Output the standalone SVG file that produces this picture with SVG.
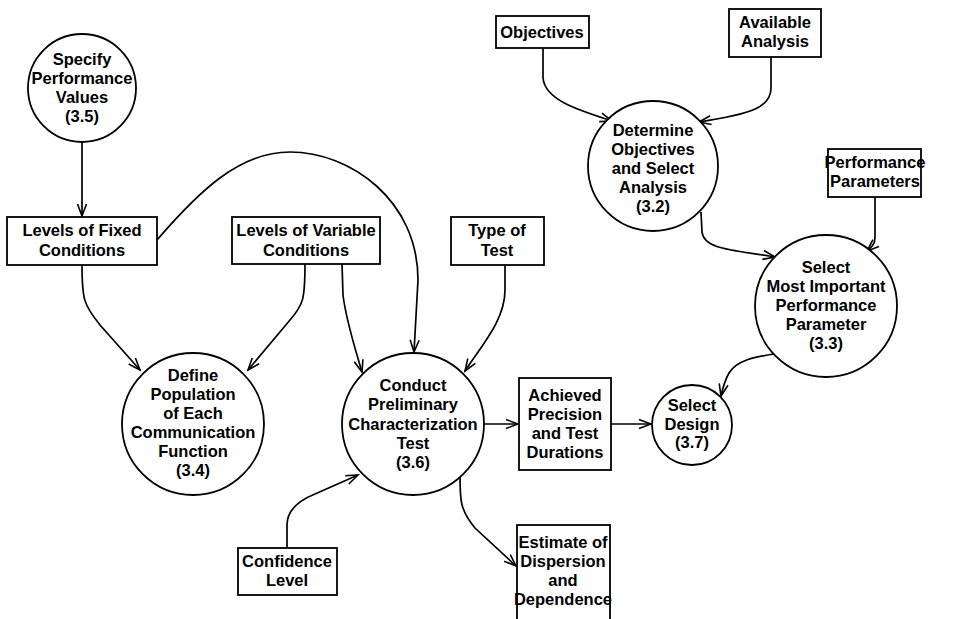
<svg xmlns="http://www.w3.org/2000/svg" width="966" height="619" viewBox="0 0 966 619">
  <style>
    .shape { fill: #fff; stroke: #000; stroke-width: 1.8; }
    .lbl { font-family: "Liberation Sans", Arial, sans-serif; font-weight: bold; font-size: 16.5px; fill: #000; text-anchor: middle; }
    .wire { fill: none; stroke: #000; stroke-width: 1.7; marker-end: url(#vee); }
  </style>
  <defs>
    <marker id="vee" viewBox="-13 -6 15 12" refX="0" refY="0" markerWidth="15" markerHeight="12" markerUnits="userSpaceOnUse" orient="auto">
      <path d="M-12,-4.5 L0,0 L-12,4.5" fill="none" stroke="#000" stroke-width="1.6"/>
    </marker>
  </defs>
  <rect width="966" height="619" fill="#fff"/>

  <g id="connectors">
    <path class="wire" d="M82,142 L82,216"/>
    <path class="wire" d="M82,265 C82,300 84,305 100,325 L140,370"/>
    <path class="wire" d="M305,264 C305,300 303,305 290,320 L248,370"/>
    <path class="wire" d="M342,264 L343,295 C346,320 354,345 362,372"/>
    <path class="wire" d="M157,240 C200,190 240,152 290,152 C350,152 418,200 418,280 L414,352"/>
    <path class="wire" d="M505,265 L505,290 C505,320 482,345 465,371"/>
    <path class="wire" d="M484,424 L518,424"/>
    <path class="wire" d="M611,424 L651,424"/>
    <path class="wire" d="M460,476 C460,500 460,510 475,528 L516,566"/>
    <path class="wire" d="M287,548 L287,525 C287,510 300,500 315,494 L358,475"/>
    <path class="wire" d="M543,48 L543,78 C545,100 578,110 612,121"/>
    <path class="wire" d="M771,57 L771,88 C771,108 750,114 699,122"/>
    <path class="wire" d="M701,212 L702,232 C704,250 735,250 775,257"/>
    <path class="wire" d="M875,197 L875,230 C875,242 876,243 867,251"/>
    <path class="wire" d="M774,354 C755,357 737,360 729,373 C725,380 723,387 721,396"/>
  </g>

  <g id="specify-performance-values">
    <circle class="shape" cx="82" cy="88" r="54"/>
    <text class="lbl"><tspan x="82" y="65">Specify</tspan><tspan x="82" y="84">Performance</tspan><tspan x="82" y="103">Values</tspan><tspan x="82" y="122">(3.5)</tspan></text>
  </g>

  <g id="levels-fixed">
    <rect class="shape" x="7" y="217" width="150" height="48"/>
    <text class="lbl"><tspan x="82" y="236">Levels of Fixed</tspan><tspan x="82" y="256">Conditions</tspan></text>
  </g>

  <g id="levels-variable">
    <rect class="shape" x="232" y="217" width="148" height="47"/>
    <text class="lbl"><tspan x="306" y="236">Levels of Variable</tspan><tspan x="306" y="256">Conditions</tspan></text>
  </g>

  <g id="type-of-test">
    <rect class="shape" x="451" y="217" width="93" height="48"/>
    <text class="lbl"><tspan x="497" y="236">Type of</tspan><tspan x="497" y="256">Test</tspan></text>
  </g>

  <g id="define-population">
    <circle class="shape" cx="193" cy="424" r="71"/>
    <text class="lbl"><tspan x="193" y="381">Define</tspan><tspan x="193" y="400">Population</tspan><tspan x="193" y="419">of Each</tspan><tspan x="193" y="438">Communication</tspan><tspan x="193" y="457">Function</tspan><tspan x="193" y="476">(3.4)</tspan></text>
  </g>

  <g id="conduct-test">
    <circle class="shape" cx="413" cy="424" r="71"/>
    <text class="lbl"><tspan x="413" y="391">Conduct</tspan><tspan x="413" y="410">Preliminary</tspan><tspan x="413" y="430">Characterization</tspan><tspan x="413" y="449">Test</tspan><tspan x="413" y="468">(3.6)</tspan></text>
  </g>

  <g id="confidence-level">
    <rect class="shape" x="238" y="548" width="99" height="47"/>
    <text class="lbl"><tspan x="287" y="567">Confidence</tspan><tspan x="287" y="586">Level</tspan></text>
  </g>

  <g id="achieved-precision">
    <rect class="shape" x="519" y="378" width="92" height="92"/>
    <text class="lbl"><tspan x="565" y="401">Achieved</tspan><tspan x="565" y="420">Precision</tspan><tspan x="565" y="439">and Test</tspan><tspan x="565" y="458">Durations</tspan></text>
  </g>

  <g id="estimate-dispersion">
    <rect class="shape" x="517" y="525" width="93" height="96"/>
    <text class="lbl"><tspan x="563" y="548">Estimate of</tspan><tspan x="563" y="567">Dispersion</tspan><tspan x="563" y="586">and</tspan><tspan x="563" y="605">Dependence</tspan></text>
  </g>

  <g id="select-design">
    <circle class="shape" cx="692" cy="425" r="40"/>
    <text class="lbl"><tspan x="692" y="411">Select</tspan><tspan x="692" y="430">Design</tspan><tspan x="692" y="448">(3.7)</tspan></text>
  </g>

  <g id="objectives">
    <rect class="shape" x="496" y="16" width="93" height="32"/>
    <text class="lbl" x="542" y="38">Objectives</text>
  </g>

  <g id="available-analysis">
    <rect class="shape" x="729" y="9" width="92" height="48"/>
    <text class="lbl"><tspan x="775" y="28">Available</tspan><tspan x="775" y="47">Analysis</tspan></text>
  </g>

  <g id="determine-objectives">
    <circle class="shape" cx="653" cy="166" r="65"/>
    <text class="lbl"><tspan x="653" y="136">Determine</tspan><tspan x="653" y="155">Objectives</tspan><tspan x="653" y="174">and Select</tspan><tspan x="653" y="193">Analysis</tspan><tspan x="653" y="212">(3.2)</tspan></text>
  </g>

  <g id="performance-parameters">
    <rect class="shape" x="828" y="149" width="93" height="48"/>
    <text class="lbl"><tspan x="875" y="168">Performance</tspan><tspan x="875" y="187">Parameters</tspan></text>
  </g>

  <g id="select-parameter">
    <circle class="shape" cx="826" cy="306" r="71"/>
    <text class="lbl"><tspan x="826" y="273">Select</tspan><tspan x="826" y="292">Most Important</tspan><tspan x="826" y="311">Performance</tspan><tspan x="826" y="330">Parameter</tspan><tspan x="826" y="349">(3.3)</tspan></text>
  </g>
</svg>
